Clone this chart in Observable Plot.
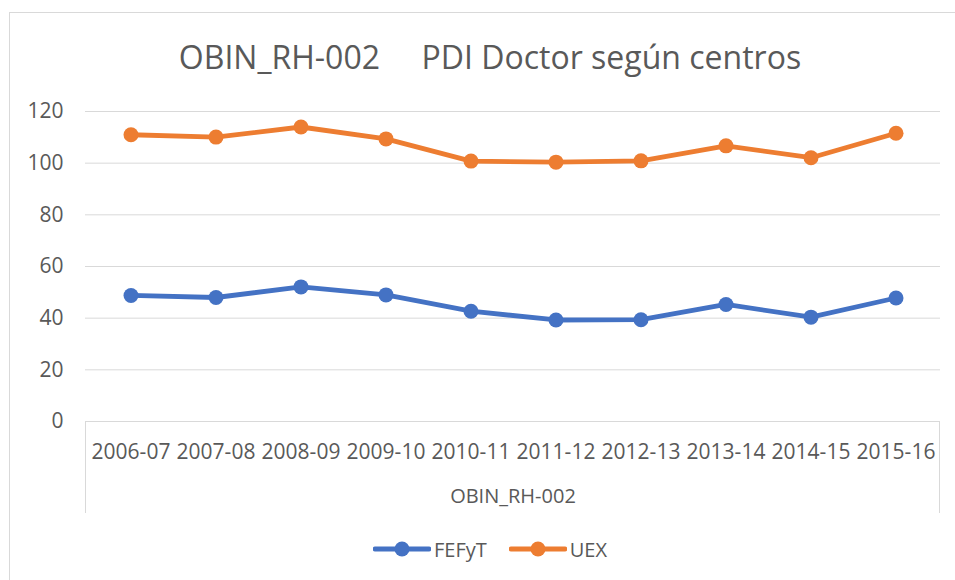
<!DOCTYPE html>
<html>
<head>
<meta charset="utf-8">
<script src="https://cdn.jsdelivr.net/npm/d3@7"></script>
<script src="https://cdn.jsdelivr.net/npm/@observablehq/plot@0.6"></script>
<style>
  html, body { margin: 0; padding: 0; background: #fff; width: 955px; height: 580px; overflow: hidden; position: relative; font-family: "Open Sans", sans-serif; color: #595959; }
  #frame { position: absolute; left: 9px; top: 12px; width: 962px; height: 600px; border: 1px solid #d9d9d9; box-sizing: border-box; }
  #title { position: absolute; left: 9px; width: 962px; top: 35px; height: 44px; line-height: 44px; text-align: center; font-size: 32px; white-space: pre; color: #595959; }
  #chart { position: absolute; left: 0; top: 90px; }
  #catbox { position: absolute; left: 85px; top: 421px; width: 855px; height: 92px; border-left: 1px solid #d9d9d9; border-right: 1px solid #d9d9d9; box-sizing: border-box; }
  #legend { position: absolute; left: 9px; width: 962px; top: 536px; height: 26px; display: flex; justify-content: center; align-items: center; font-size: 20px; color: #595959; }
  .item { display: flex; align-items: center; margin: 0 11px; }
  .item svg { margin-right: 3px; }
</style>
</head>
<body>
<div id="frame"></div>
<div id="title"></div>
<div id="catbox"></div>
<div id="chart"></div>
<div id="legend"></div>
<script>
const titleText = "OBIN_RH-002     PDI Doctor según centros";
const axisTitle = "OBIN_RH-002";
const years = ["2006-07","2007-08","2008-09","2009-10","2010-11","2011-12","2012-13","2013-14","2014-15","2015-16"];
const seriesNames = ["FEFyT", "UEX"];
const fefyt = [48.8, 48.0, 52.1, 49.0, 42.7, 39.3, 39.4, 45.3, 40.4, 47.8];
const uex = [111.0, 110.1, 114.0, 109.4, 100.8, 100.4, 100.9, 106.7, 102.1, 111.6];
const yTicks = [0, 20, 40, 60, 80, 100, 120];
const colors = ["#4472C4", "#ED7D31"];

const data = [];
years.forEach((y, i) => {
  data.push({year: y, series: seriesNames[0], value: fefyt[i]});
  data.push({year: y, series: seriesNames[1], value: uex[i]});
});

document.getElementById("title").textContent = titleText;

const chart = Plot.plot({
  width: 955,
  height: 435,
  marginTop: 21,
  marginBottom: 104,
  marginLeft: 85,
  marginRight: 15,
  style: { fontFamily: "Open Sans, sans-serif", fontSize: "21px", color: "#595959", background: "transparent", overflow: "visible" },
  x: { type: "band", domain: years, padding: 0, label: null },
  y: { domain: [0, 120], ticks: yTicks, label: null },
  color: { domain: seriesNames, range: colors },
  marks: [
    Plot.gridY(yTicks, { stroke: "#d9d9d9", strokeOpacity: 1, strokeWidth: 1 }),
    Plot.axisY(yTicks, { tickSize: 0, tickPadding: 22, fontSize: 21, fill: "#595959", label: null }),
    Plot.axisX({ tickSize: 0, tickPadding: 23, fontSize: 21, fill: "#595959", label: null }),
    Plot.text([axisTitle], { frameAnchor: "bottom", dy: 81, text: d => d, fontSize: 20, fill: "#595959" }),
    Plot.line(data, { x: "year", y: "value", z: "series", stroke: "series", strokeWidth: 4.8, strokeLinecap: "round", strokeLinejoin: "round" }),
    Plot.dot(data, { x: "year", y: "value", fill: "series", r: 7.5, stroke: null })
  ]
});
document.getElementById("chart").appendChild(chart);

const legend = document.getElementById("legend");
seriesNames.forEach((name, i) => {
  const item = document.createElement("div");
  item.className = "item";
  item.innerHTML = `<svg width="58" height="16"><line x1="2" y1="8" x2="56" y2="8" stroke="${colors[i]}" stroke-width="4.8" stroke-linecap="round"/><circle cx="29" cy="8" r="7.5" fill="${colors[i]}"/></svg><span>${name}</span>`;
  legend.appendChild(item);
});
</script>
</body>
</html>
